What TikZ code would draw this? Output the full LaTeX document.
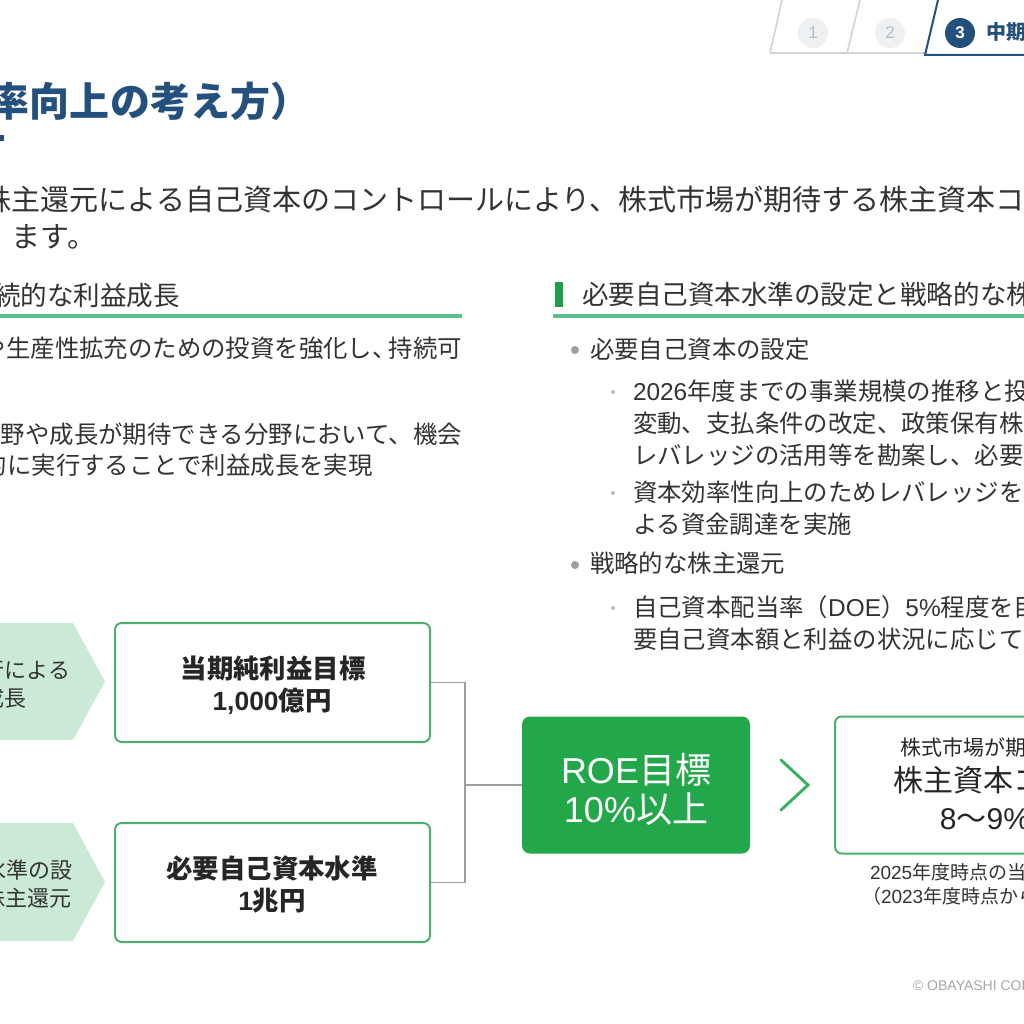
\documentclass[tikz,border=0pt]{standalone}
\usepackage{fontspec}
\setmainfont{Noto Sans CJK JP}
\newfontfamily\lat{Liberation Sans}
\newcommand{\myfs}[1]{\fontsize{#1pt}{#1pt}\selectfont}
\definecolor{titleblue}{HTML}{24507E}
\definecolor{textgray}{HTML}{333333}
\definecolor{ulgreen}{HTML}{5FBF8A}
\definecolor{bargreen}{HTML}{1E9E4B}
\definecolor{boxgreen}{HTML}{4CAF6A}
\definecolor{roegreen}{HTML}{22A84A}
\definecolor{chevfill}{HTML}{CBEAD6}
\definecolor{conngray}{HTML}{9E9E9E}
\definecolor{tabgray}{HTML}{D0D3D8}
\definecolor{circgray}{HTML}{EEF0F2}
\definecolor{digitgray}{HTML}{B8BCC2}
\tikzset{
  txt/.style={inner sep=0pt, outer sep=0pt, anchor=base west, text=textgray},
  txte/.style={txt, anchor=base east},
  txtc/.style={txt, anchor=base},
  box/.style={draw=boxgreen, line width=1.5pt, fill=white, rounded corners=5pt, inner sep=0pt},
  roebox/.style={fill=roegreen, rounded corners=6pt, inner sep=0pt},
  conn/.style={draw=conngray, line width=1.3pt},
  chev/.style={fill=chevfill},
  bigdot/.style={circle, fill=conngray, inner sep=0pt, minimum size={8*0.75pt}},
  smalldot/.style={circle, fill=digitgray, inner sep=0pt, minimum size={4*0.75pt}},
  tabcirc/.style={circle, inner sep=0pt, minimum size={30*0.75pt}}
}
\begin{document}
\begin{tikzpicture}[x=0.75pt,y=-0.75pt]
\useasboundingbox (0,0) rectangle (1024,1024);
\clip (0,0) rectangle (1024,1024);
\fill[white] (0,0) rectangle (1024,1024);

% top tabs
\draw[tabgray, line width=1.2pt] (770,53) -- (925,53);
\draw[tabgray, line width=1.2pt] (770,53) -- (782,0);
\draw[tabgray, line width=1.2pt] (847,53) -- (860,0);
\draw[titleblue, line width=1.5pt] (938,0) -- (925,55) -- (1030,55);
\node[tabcirc, fill=circgray, text=digitgray] (t1) at (813,33) {\myfs{12.75}\lat 1};
\node[tabcirc, fill=circgray, text=digitgray] (t2) at (890,33) {\myfs{12.75}\lat 2};
\node[tabcirc, fill=titleblue, text=white] (t3) at (960,33) {\myfs{12.75}\lat\bfseries 3};
\node[txt, text=titleblue] (tabtxt) at (986,40) {\myfs{15}\bfseries 中期経営計画};

% title
\node[txt, text=titleblue] (title) at (-10,117) {\myfs{30}\bfseries 率向上の考え方）};
\fill[titleblue] (0,135) rectangle (4,141);

% intro
\node[txt] (intro1) at (-17,210) {\myfs{21.75}株主還元による自己資本のコントロールにより、株式市場が期待する株主資本コスト};
\node[txt] (intro2) at (12,247) {\myfs{21.75}ます。};

% left heading
\node[txt] (lh) at (-6,305) {\myfs{19.9}続的な利益成長};
\draw[ulgreen, line width=2.4pt] (0,316) -- (462,316);

% left body
\node[txte] (lb1) at (462,357) {\myfs{18.3}や生産性拡充のための投資を強化し、\kern-6pt 持続可};
\node[txte] (lb2) at (462,443) {\myfs{18.3}野や成長が期待できる分野において、機会};
\node[txt] (lb3) at (-17,474) {\myfs{18.3}的に実行することで利益成長を実現};

% right heading
\fill[bargreen] (555,282) rectangle (563,307);
\node[txt] (rh) at (582,304) {\myfs{19.9}必要自己資本水準の設定と戦略的な株主還元};
\draw[ulgreen, line width=2.4pt] (553,316) -- (1030,316);

% right body
\node[bigdot] (d1) at (575,350) {};
\node[txt] (r1) at (590,358) {\myfs{18.3}必要自己資本の設定};
\node[smalldot] (d2) at (613,392) {};
\node[txt] (r2) at (633,400) {\myfs{18.3}{\lat 2026}年度までの事業規模の推移と投資};
\node[txt] (r3) at (633,432) {\myfs{18.3}変動、支払条件の改定、政策保有株式};
\node[txt] (r4) at (633,464) {\myfs{18.3}レバレッジの活用等を勘案し、必要自己};
\node[smalldot] (d3) at (613,493) {};
\node[txt] (r5) at (633,501) {\myfs{18.3}資本効率性向上のためレバレッジを活};
\node[txt] (r6) at (633,533) {\myfs{18.3}よる資金調達を実施};
\node[bigdot] (d4) at (575,565) {};
\node[txt] (r7) at (590,572) {\myfs{18.3}戦略的な株主還元};
\node[smalldot] (d5) at (613,608) {};
\node[txt] (r8) at (633,616) {\myfs{18.3}自己資本配当率（{\lat DOE}）{\lat 5\%}程度を目安};
\node[txt] (r9) at (633,648) {\myfs{18.3}要自己資本額と利益の状況に応じて機動};

% chevrons
\fill[chev] (-5,623) -- (73,623) -- (105,681.5) -- (73,740) -- (-5,740) -- cycle;
\fill[chev] (-5,823) -- (73,823) -- (105,882) -- (73,941) -- (-5,941) -- cycle;
\node[txte] (c1a) at (70,678) {\myfs{16.5}実行による};
\node[txte] (c1b) at (27,706) {\myfs{16.5}益成長};
\node[txte] (c2a) at (73,878) {\myfs{16.5}必要自己資本水準の設};
\node[txte] (c2b) at (72,906) {\myfs{16.5}定と戦略的な株主還元};

% boxes
\node[box, minimum width={315*0.75pt}, minimum height={119*0.75pt}] (b1) at (272.5,682.5) {};
\node[box, minimum width={315*0.75pt}, minimum height={119*0.75pt}] (b2) at (272.5,882.5) {};
\node[txtc, text=black!85] (b1a) at (273,678) {\myfs{19.8}\bfseries 当期純利益目標};
\node[txtc, text=black!85] (b1b) at (272,710) {\myfs{19.8}\bfseries {\lat 1,000}億円};
\node[txtc, text=black!85] (b2a) at (272,878) {\myfs{19.8}\bfseries 必要自己資本水準};
\node[txtc, text=black!85] (b2b) at (272,910) {\myfs{19.8}\bfseries {\lat 1}兆円};

% ROE
\node[roebox, minimum width={228*0.75pt}, minimum height={137*0.75pt}] (roe) at (636,785) {};
\node[txtc, text=white] (roea) at (636,783) {\myfs{27}{\lat ROE}目標};
\node[txtc, text=white] (roeb) at (636,822) {\myfs{27}{\lat 10\%}以上};

% connectors
\coordinate (j) at (465,785);
\draw[conn] (b1.east) -- (b1.east -| j) -- (b2.east -| j) -- (b2.east);
\draw[conn] (j) -- (roe.west);

% arrow chevron
\coordinate (ga) at (781,760);
\coordinate (gb) at (808,785);
\coordinate (gc) at (781,810);
\draw[roegreen!90!white, line width=2.2pt, line cap=round, line join=miter] (ga) -- (gb) -- (gc);

% box 3
\node[box, minimum width={320*0.75pt}, minimum height={137*0.75pt}] (b3) at (995,785) {};
\node[txtc, text=black!85] (b3a) at (995,755) {\myfs{15.75}株式市場が期待する};
\node[txtc, text=black!85] (b3b) at (998,791) {\myfs{22.5}株主資本コスト};
\node[txtc, text=black!85] (b3c) at (985,829) {\myfs{22.5}{\lat 8}～{\lat 9\%}};
\node[txt] (n1) at (870,879) {\myfs{14.25}{\lat 2025}年度時点の当社想定};
\node[txt] (n2) at (862,903) {\myfs{14.25}（{\lat 2023}年度時点から};

% copyright
\node[txt, text=black!35] (copy) at (913,990) {\myfs{10.5}\lat © OBAYASHI CORPORATION};
\end{tikzpicture}
\end{document}
